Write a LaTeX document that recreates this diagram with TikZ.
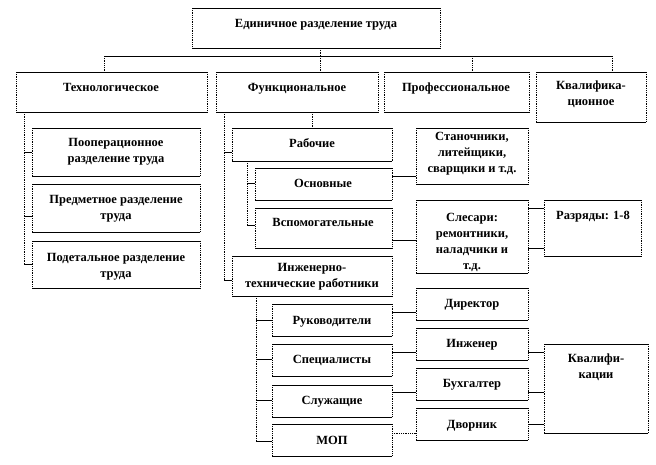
\documentclass[tikz,border=0pt]{standalone}
\usepackage{fontspec}
\setmainfont{Liberation Serif}
\usetikzlibrary{fit}
\newcommand\mybox[5]{%
  \node[boxn, fit={(#2,#3) (#4,#5)}] (#1) {};
  \draw[hedge] (#1.north west) -- (#1.north east) (#1.south west) -- (#1.south east);
  \draw[vedge] (#1.north west) -- (#1.south west) (#1.north east) -- (#1.south east);
}
\newcommand\mytext[4]{\node[txt] (#1) at (#2,#3-7) {\strut #4};}
\begin{document}
\begin{tikzpicture}[x=1pt,y=-1pt,
  boxn/.style={inner sep=0pt, outer sep=0pt, draw=none},
  hedge/.style={line width=0.8pt},
  vedge/.style={line width=0.8pt, densely dotted},
  txt/.style={font=\bfseries\fontsize{12.5}{16}\selectfont, align=center, inner sep=0pt, anchor=north},
  hline/.style={line width=0.8pt},
  vline/.style={line width=0.8pt, densely dotted}]
\useasboundingbox (0,0) rectangle (656,464);

% boxes
\mybox{top}{192}{8}{440}{48}
\mybox{tech}{16}{72}{207}{112}
\mybox{func}{216}{72}{378}{112}
\mybox{prof}{384}{72}{529}{112}
\mybox{qual}{536}{72}{646}{122}
\mybox{oper}{32}{128}{200}{176}
\mybox{pred}{32}{184}{200}{232}
\mybox{podet}{32}{241}{200}{288}
\mybox{rab}{232}{128}{392}{161}
\mybox{osn}{255}{168}{392}{200}
\mybox{vsp}{255}{208}{392}{248}
\mybox{itr}{232}{256}{392}{296}
\mybox{ruk}{272}{304}{392}{336}
\mybox{spec}{272}{344}{392}{376}
\mybox{sluz}{272}{385}{392}{417}
\mybox{mop}{272}{424}{392}{456}
\mybox{stan}{416}{128}{528}{184}
\mybox{sles}{416}{200}{528}{273}
\mybox{razr}{544}{200}{641}{256}
\mybox{dir}{416}{288}{528}{320}
\mybox{ing}{416}{328}{528}{360}
\mybox{buh}{416}{368}{528}{400}
\mybox{dvor}{416}{408}{528}{440}
\mybox{kval}{544}{344}{648}{433}

% texts
\mytext{topt}{316}{23}{Единичное разделение труда}
\mytext{techt}{111}{87}{Технологическое}
\mytext{funct}{297}{87}{Функциональное}
\mytext{proft}{456}{87}{Профессиональное}
\mytext{qualt}{591}{85}{Квалифика-\\ционное}
\mytext{opert}{116}{142}{Пооперационное\\разделение труда}
\mytext{predt}{116}{199}{Предметное разделение\\труда}
\mytext{podett}{116}{257}{Подетальное разделение\\труда}
\mytext{rabt}{312}{143}{Рабочие}
\mytext{osnt}{323}{183}{Основные}
\mytext{vspt}{323}{222}{Вспомогательные}
\mytext{itrt}{312}{267}{Инженерно-\\технические работники}
\mytext{rukt}{332}{320}{Руководители}
\mytext{spect}{332}{359}{Специалисты}
\mytext{sluzt}{332}{400}{Служащие}
\mytext{mopt}{332}{440}{МОП}
\mytext{stant}{472}{136}{Станочники,\\литейщики,\\сварщики и т.д.}
\mytext{slest}{472}{217}{Слесари:\\ремонтники,\\наладчики и\\т.д.}
\mytext{razrt}{593}{215}{Разряды: 1-8}
\mytext{dirt}{472}{303}{Директор}
\mytext{ingt}{472}{343}{Инженер}
\mytext{buht}{472}{383}{Бухгалтер}
\mytext{dvort}{472}{424}{Дворник}
\mytext{kvalt}{596}{358}{Квалифи-\\кации}

% top bus
\coordinate (b1) at (104,56);
\coordinate (b2) at (320,56);
\coordinate (b3) at (472,56);
\coordinate (b4) at (612,56);
\draw[hline] (b1) -- (b4);
\draw[vline] (top.south -| b2) -- (b2);
\draw[vline] (b1) -- (b1 |- tech.north);
\draw[vline] (b2) -- (b2 |- func.north);
\draw[vline] (b3) -- (b3 |- prof.north);
\draw[vline] (b4) -- (b4 |- qual.north);

% technological branch
\coordinate (t1) at (24,152);
\coordinate (t2) at (24,216);
\coordinate (t3) at (24,264);
\draw[vline] (tech.south -| t1) -- (t3);
\draw[hline] (t1) -- (t1 -| oper.west);
\draw[hline] (t2) -- (t2 -| pred.west);
\draw[hline] (t3) -- (t3 -| podet.west);

% functional branch
\coordinate (f1) at (224,152);
\coordinate (f2) at (224,280);
\coordinate (f3) at (312,112);
\draw[vline] (func.south -| f1) -- (f2);
\draw[hline] (f1) -- (f1 -| rab.west);
\draw[hline] (f2) -- (f2 -| itr.west);
\draw[vline] (f3) -- (f3 |- rab.north);

\coordinate (r1) at (247,183);
\coordinate (r2) at (247,225);
\draw[vline] (rab.south -| r1) -- (r2);
\draw[hline] (r1) -- (r1 -| osn.west);
\draw[hline] (r2) -- (r2 -| vsp.west);

\coordinate (i1) at (256,320);
\coordinate (i2) at (256,359);
\coordinate (i3) at (256,400);
\coordinate (i4) at (256,441);
\draw[vline] (itr.south -| i1) -- (i4);
\draw[hline] (i1) -- (i1 -| ruk.west);
\draw[hline] (i2) -- (i2 -| spec.west);
\draw[hline] (i3) -- (i3 -| sluz.west);
\draw[hline] (i4) -- (i4 -| mop.west);

% right connectors
\coordinate (y176) at (0,176);
\coordinate (y240) at (0,240);
\coordinate (y208) at (0,208);
\coordinate (y248) at (0,248);
\coordinate (y312) at (0,312);
\coordinate (y352) at (0,352);
\coordinate (y392) at (0,392);
\coordinate (y433) at (0,433);
\coordinate (y424) at (0,424);
\draw[hline] (osn.east |- y176) -- (stan.west |- y176);
\draw[hline] (vsp.east |- y240) -- (sles.west |- y240);
\draw[hline] (sles.east |- y208) -- (razr.west |- y208);
\draw[hline] (sles.east |- y248) -- (razr.west |- y248);
\draw[hline] (ruk.east |- y312) -- (dir.west |- y312);
\draw[hline] (spec.east |- y352) -- (ing.west |- y352);
\draw[hline] (sluz.east |- y392) -- (buh.west |- y392);
\draw[vline] (mop.east |- y433) -- (dvor.west |- y433);
\draw[hline] (ing.east |- y352) -- (kval.west |- y352);
\draw[hline] (buh.east |- y392) -- (kval.west |- y392);
\draw[hline] (dvor.east |- y424) -- (kval.west |- y424);
\end{tikzpicture}
\end{document}
